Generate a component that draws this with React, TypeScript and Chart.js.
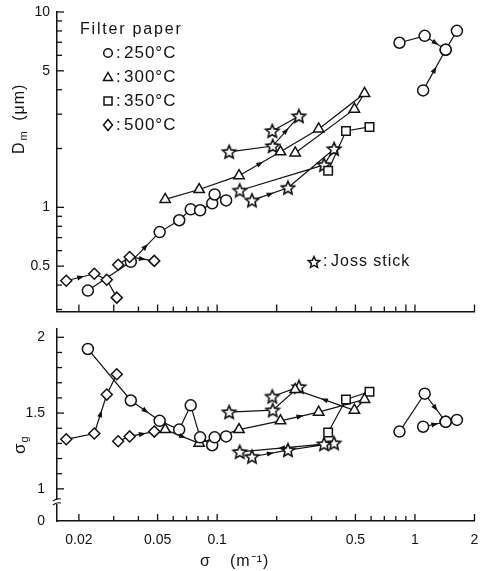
import React, { useEffect, useRef } from "react";
import { Chart, registerables } from "chart.js";
Chart.register(...registerables);

// ---------------- data ----------------
const xTickValues = [0.02, 0.03, 0.04, 0.05, 0.06, 0.07, 0.08, 0.09, 0.1, 0.2, 0.3, 0.4, 0.5, 0.6, 0.7, 0.8, 0.9, 1, 2];
const xTickLabels = ["0.02", "0.05", "0.1", "0.5", "1", "2"];
const dmTickValues = [0.3, 0.4, 0.5, 0.6, 0.7, 0.8, 0.9, 1, 2, 3, 4, 5, 6, 7, 8, 9, 10];
const dmTickLabels = ["0.5", "1", "5", "10"];
const sgTickValues = [1, 1.1, 1.2, 1.3, 1.4, 1.5, 1.6, 1.7, 1.8, 1.9, 2];
const sgTickLabels = ["1", "1.5", "2"];
const sgBreakLabel = "0";

// Filter paper 250°C (low sigma run)
const c250aSigma = [0.0222, 0.0366, 0.0512, 0.0643, 0.0735, 0.082, 0.0944, 0.0971, 0.111];
const c250aDm = [0.375, 0.526, 0.747, 0.859, 0.977, 0.966, 1.048, 1.164, 1.085];
const c250aSg = [1.923, 1.583, 1.449, 1.391, 1.551, 1.34, 1.288, 1.34, 1.346];
// Filter paper 250°C (high sigma runs)
const c250bSigma = [0.835, 1.12, 1.43, 1.63];
const c250bDm = [6.96, 7.55, 6.41, 8.01];
const c250bSg = [1.378, 1.628, 1.442, 1.455];
const c250cSigma = [1.1, 1.43];
const c250cDm = [3.97, 6.41];
const c250cSg = [1.41, 1.442];
// Filter paper 300°C
const t300Sigma = [0.0546, 0.0811, 0.129, 0.209, 0.326, 0.556, 0.494, 0.248];
const t300Dm = [1.098, 1.234, 1.453, 1.924, 2.52, 3.83, 3.18, 1.9];
const t300Sg = [1.391, 1.301, 1.391, 1.449, 1.506, 1.59, 1.519, 1.655];
// Filter paper 350°C
const s350Sigma = [0.364, 0.448, 0.589];
const s350Dm = [1.54, 2.46, 2.58];
const s350Sg = [1.372, 1.59, 1.641];
// Filter paper 500°C
const d500aSigma = [0.01726, 0.02393, 0.02767, 0.03108];
const d500aDm = [0.421, 0.457, 0.426, 0.345];
const d500aSg = [1.327, 1.365, 1.622, 1.756];
const d500bSigma = [0.0316, 0.0361, 0.0481];
const d500bDm = [0.508, 0.557, 0.532];
const d500bSg = [1.314, 1.346, 1.378];
// Joss stick
const jsASigma = [0.115, 0.191, 0.259, 0.19];
const jsADm = [1.924, 2.06, 2.93, 2.46];
const jsASg = [1.506, 1.519, 1.673, 1.609];
const jsBSigma = [0.15, 0.228, 0.39, 0.347, 0.13];
const jsBDm = [1.085, 1.26, 1.99, 1.65, 1.22];
const jsBSg = [1.212, 1.256, 1.301, 1.295, 1.244];

const legendTitle = "Filter paper";
const legendLabels = ["250°C", "300°C", "350°C", "500°C"];
const jossLabel = "Joss stick";

// ---------------- styling ----------------
const FONT = "'Liberation Sans', Arial, sans-serif";
const INK = "#111";

type Run = { key: string; marker: string; sigma: number[]; dm: number[]; sg: number[] };
const runs: Run[] = [
  { key: "d500a", marker: "diamond", sigma: d500aSigma, dm: d500aDm, sg: d500aSg },
  { key: "d500b", marker: "diamond", sigma: d500bSigma, dm: d500bDm, sg: d500bSg },
  { key: "c250a", marker: "circle", sigma: c250aSigma, dm: c250aDm, sg: c250aSg },
  { key: "t300", marker: "triangle", sigma: t300Sigma, dm: t300Dm, sg: t300Sg },
  { key: "s350", marker: "square", sigma: s350Sigma, dm: s350Dm, sg: s350Sg },
  { key: "jsA", marker: "star", sigma: jsASigma, dm: jsADm, sg: jsASg },
  { key: "jsB", marker: "star", sigma: jsBSigma, dm: jsBDm, sg: jsBSg },
  { key: "c250b", marker: "circle", sigma: c250bSigma, dm: c250bDm, sg: c250bSg },
  { key: "c250c", marker: "circle", sigma: c250cSigma, dm: c250cDm, sg: c250cSg },
];

const topArrows: [string, number][] = [
  ["d500a", 0], ["c250a", 1], ["d500b", 1], ["t300", 2], ["jsA", 1], ["jsB", 0], ["c250b", 1], ["c250c", 0],
];
const bottomArrows: [string, number][] = [
  ["d500a", 1], ["c250a", 1], ["d500b", 1], ["t300", 0], ["t300", 3], ["t300", 6], ["jsB", 0], ["jsB", 3], ["c250b", 1], ["c250c", 0],
];

function starPath(ctx: CanvasRenderingContext2D, cx: number, cy: number, ro: number, ri: number) {
  ctx.beginPath();
  for (let i = 0; i < 10; i++) {
    const r = i % 2 === 0 ? ro : ri;
    const a = -Math.PI / 2 + (i * Math.PI) / 5;
    const px = cx + r * Math.cos(a);
    const py = cy + r * Math.sin(a);
    if (i === 0) ctx.moveTo(px, py);
    else ctx.lineTo(px, py);
  }
  ctx.closePath();
}

function makeStar(): HTMLCanvasElement {
  const c = document.createElement("canvas");
  c.width = 18;
  c.height = 18;
  const ctx = c.getContext("2d")!;
  starPath(ctx, 9, 9.5, 7, 3.2);
  ctx.fillStyle = "#fff";
  ctx.fill();
  ctx.lineWidth = 1.6;
  ctx.strokeStyle = INK;
  ctx.lineJoin = "miter";
  ctx.stroke();
  return c;
}

function drawMarker(ctx: CanvasRenderingContext2D, marker: string, x: number, y: number) {
  ctx.save();
  ctx.lineWidth = 1.5;
  ctx.strokeStyle = INK;
  ctx.fillStyle = "#fff";
  ctx.beginPath();
  if (marker === "circle") ctx.arc(x, y, 4.3, 0, Math.PI * 2);
  else if (marker === "triangle") {
    ctx.moveTo(x, y - 4.5);
    ctx.lineTo(x + 4.5, y + 3.5);
    ctx.lineTo(x - 4.5, y + 3.5);
    ctx.closePath();
  } else if (marker === "square") ctx.rect(x - 4, y - 4, 8, 8);
  else if (marker === "diamond") {
    ctx.moveTo(x, y - 5.5);
    ctx.lineTo(x + 4.5, y);
    ctx.lineTo(x, y + 5.5);
    ctx.lineTo(x - 4.5, y);
    ctx.closePath();
  } else if (marker === "star") starPath(ctx, x, y + 0.5, 6, 2.8);
  ctx.fill();
  ctx.stroke();
  ctx.restore();
}

function labelFor(value: number, labels: string[]): string {
  const hit = labels.find((l) => Math.abs(Number(l) - value) < 1e-6);
  return hit === undefined ? "" : hit;
}

const tickPlugin = {
  id: "inwardTicks",
  afterDraw(chart: any) {
    const ctx = chart.ctx as CanvasRenderingContext2D;
    const area = chart.chartArea;
    ctx.save();
    ctx.strokeStyle = INK;
    ctx.lineWidth = 1.3;
    Object.values(chart.scales).forEach((s: any) => {
      s.ticks.forEach((t: any) => {
        const p = s.getPixelForValue(t.value);
        const len = t.label ? 7 : 5;
        ctx.beginPath();
        if (s.axis === "x") {
          if (p < area.left + 2) return;
          ctx.moveTo(p, area.bottom);
          ctx.lineTo(p, area.bottom - len);
        } else {
          if (p > area.bottom - 2) return;
          ctx.moveTo(area.left, p);
          ctx.lineTo(area.left + len, p);
        }
        ctx.stroke();
      });
    });
    ctx.restore();
  },
};

function arrowPlugin(list: [string, number][]) {
  return {
    id: "arrows",
    afterDatasetsDraw(chart: any) {
      const ctx = chart.ctx as CanvasRenderingContext2D;
      ctx.save();
      ctx.fillStyle = INK;
      list.forEach(([key, seg]) => {
        const di = runs.findIndex((r) => r.key === key);
        const pts = chart.getDatasetMeta(di).data;
        const a = pts[seg];
        const b = pts[seg + 1];
        if (!a || !b) return;
        const mx = (a.x + b.x) / 2;
        const my = (a.y + b.y) / 2;
        const ang = Math.atan2(b.y - a.y, b.x - a.x);
        ctx.save();
        ctx.translate(mx, my);
        ctx.rotate(ang);
        ctx.beginPath();
        ctx.moveTo(4, 0);
        ctx.lineTo(-3, -2.6);
        ctx.lineTo(-3, 2.6);
        ctx.closePath();
        ctx.fill();
        ctx.restore();
      });
      ctx.restore();
    },
  };
}

const TOP_H = 320;
const BOT_TOP = 320;
const BOT_H = 571 - BOT_TOP;

const topTextPlugin = {
  id: "topText",
  afterDraw(chart: any) {
    const ctx = chart.ctx as CanvasRenderingContext2D;
    ctx.save();
    ctx.fillStyle = INK;
    ctx.textBaseline = "middle";
    ctx.textAlign = "left";
    ctx.font = `16px ${FONT}`;
    (ctx as any).letterSpacing = "1.8px";
    ctx.fillText(legendTitle, 80, 30);
    const markers = ["circle", "triangle", "square", "diamond"];
    const rowY = [53, 77, 101, 125];
    (ctx as any).letterSpacing = "1px";
    ctx.font = `17px ${FONT}`;
    legendLabels.forEach((lab, i) => {
      drawMarker(ctx, markers[i], 108, rowY[i]);
      ctx.fillText(":", 116, rowY[i]);
      ctx.fillText(lab, 124, rowY[i]);
    });
    drawMarker(ctx, "star", 314, 262);
    ctx.font = `16px ${FONT}`;
    ctx.fillText(":", 323, 262);
    ctx.fillText(jossLabel, 331, 262);
    // y title
    ctx.save();
    ctx.translate(20, 154);
    ctx.rotate(-Math.PI / 2);
    (ctx as any).letterSpacing = "1px";
    ctx.font = `16px ${FONT}`;
    ctx.fillText("D", 0, 0);
    let w = ctx.measureText("D").width;
    ctx.font = `11px ${FONT}`;
    ctx.fillText("m", w + 1, 4);
    w += ctx.measureText("m").width + 1;
    ctx.font = `16px ${FONT}`;
    ctx.fillText(" (μm)", w + 4, 0);
    ctx.restore();
    ctx.restore();
  },
};

const botTextPlugin = {
  id: "botText",
  afterDraw(chart: any) {
    const ctx = chart.ctx as CanvasRenderingContext2D;
    const area = chart.chartArea;
    const oy = -BOT_TOP;
    ctx.save();
    ctx.fillStyle = INK;
    ctx.textBaseline = "middle";
    ctx.textAlign = "left";
    ctx.font = `16px ${FONT}`;
    (ctx as any).letterSpacing = "1px";
    ctx.fillText("σ", 200, 562 + oy);
    ctx.fillText("(m⁻¹)", 230, 562 + oy);
    // y title
    ctx.save();
    ctx.translate(20, 454 + oy);
    ctx.rotate(-Math.PI / 2);
    ctx.font = `17px ${FONT}`;
    ctx.fillText("σ", 0, 0);
    const w = ctx.measureText("σ").width;
    ctx.font = `11px ${FONT}`;
    ctx.fillText("g", w, 5);
    ctx.restore();
    // axis break
    const yb = 502 + oy;
    const x0 = area.left;
    ctx.fillStyle = "#fff";
    ctx.fillRect(x0 - 2, yb - 2, 4, 4);
    ctx.strokeStyle = INK;
    ctx.lineWidth = 1.2;
    ctx.beginPath();
    ctx.moveTo(x0 - 4, yb - 1);
    ctx.quadraticCurveTo(x0, yb - 4, x0 + 4, yb - 3);
    ctx.moveTo(x0 - 4, yb + 3);
    ctx.quadraticCurveTo(x0, yb, x0 + 4, yb + 1);
    ctx.stroke();
    ctx.restore();
  },
};

function buildDatasets(which: "dm" | "sg", star: HTMLCanvasElement) {
  return runs.map((r) => {
    const ys = which === "dm" ? r.dm : r.sg;
    let pointStyle: any = "circle";
    let radius = 5.5;
    if (r.marker === "triangle") { pointStyle = "triangle"; radius = 6; }
    if (r.marker === "square") { pointStyle = "rect"; radius = 6; }
    if (r.marker === "diamond") { pointStyle = "rectRot"; radius = 5.5; }
    if (r.marker === "star") { pointStyle = star; radius = 7; }
    return {
      label: r.key,
      data: r.sigma.map((s, i) => ({ x: s, y: ys[i] })),
      showLine: true,
      borderColor: INK,
      borderWidth: 1.2,
      pointStyle,
      pointRadius: radius,
      pointBorderWidth: 1.5,
      pointBorderColor: INK,
      pointBackgroundColor: "#fff",
      tension: 0,
    };
  });
}

const tickFont = { family: FONT, size: 14 };
const border = { display: true, color: INK, width: 1.5 };
const noGrid = { display: false, drawTicks: false };

function zeroPad(s: any) {
  s.paddingTop = 0;
  s.paddingBottom = 0;
  s.paddingLeft = 0;
  s.paddingRight = 0;
}

export default function App() {
  const topRef = useRef<HTMLCanvasElement>(null);
  const botRef = useRef<HTMLCanvasElement>(null);

  useEffect(() => {
    document.body.style.margin = "0";
    const star = makeStar();
    const xCommon = {
      type: "logarithmic" as const,
      min: 0.0155,
      max: 2,
      afterBuildTicks: (s: any) => {
        s.ticks = xTickValues.map((v) => ({ value: v }));
      },
      grid: noGrid,
      border,
    };
    const top = new Chart(topRef.current!, {
      type: "scatter",
      data: { datasets: buildDatasets("dm", star) as any },
      plugins: [tickPlugin, arrowPlugin(topArrows), topTextPlugin],
      options: {
        animation: false,
        responsive: false,
        events: [],
        layout: { padding: { left: 0, right: 8, top: 12, bottom: 0 } },
        plugins: { legend: { display: false }, tooltip: { enabled: false } },
        scales: {
          x: {
            ...xCommon,
            ticks: { display: false, autoSkip: false },
            afterFit: (s: any) => { s.height = 6; zeroPad(s); },
          },
          y: {
            type: "logarithmic",
            min: 0.293,
            max: 10,
            afterBuildTicks: (s: any) => {
              s.ticks = dmTickValues.map((v) => ({ value: v }));
            },
            ticks: {
              autoSkip: false,
              padding: 7,
              font: tickFont,
              color: INK,
              callback: (v: any) => labelFor(Number(v), dmTickLabels),
            },
            grid: noGrid,
            border,
            afterFit: (s: any) => { s.width = 57; zeroPad(s); },
          },
        },
      } as any,
    });
    const sgMin = 0.788;
    const bot = new Chart(botRef.current!, {
      type: "scatter",
      data: { datasets: buildDatasets("sg", star) as any },
      plugins: [tickPlugin, arrowPlugin(bottomArrows), botTextPlugin],
      options: {
        animation: false,
        responsive: false,
        events: [],
        layout: { padding: { left: 0, right: 8, top: 3, bottom: 0 } },
        plugins: { legend: { display: false }, tooltip: { enabled: false } },
        scales: {
          x: {
            ...xCommon,
            ticks: {
              autoSkip: false,
              maxRotation: 0,
              padding: 11,
              font: tickFont,
              color: INK,
              callback: (v: any) => labelFor(Number(v), xTickLabels),
            },
            afterFit: (s: any) => { s.height = 50; zeroPad(s); },
          },
          y: {
            type: "linear",
            min: sgMin,
            max: 2.058,
            afterBuildTicks: (s: any) => {
              s.ticks = [{ value: sgMin }, ...sgTickValues.map((v) => ({ value: v }))];
            },
            ticks: {
              autoSkip: false,
              padding: 12,
              font: tickFont,
              color: INK,
              callback: (v: any) => (Math.abs(Number(v) - sgMin) < 1e-6 ? sgBreakLabel : labelFor(Number(v), sgTickLabels)),
            },
            grid: noGrid,
            border,
            afterFit: (s: any) => { s.width = 57; zeroPad(s); },
          },
        },
      } as any,
    });
    return () => {
      top.destroy();
      bot.destroy();
    };
  }, []);

  return (
    <div style={{ position: "relative", width: 483, height: 571, background: "#fff" }}>
      <canvas ref={topRef} width={483} height={TOP_H} style={{ position: "absolute", left: 0, top: 0, display: "block" }} />
      <canvas ref={botRef} width={483} height={BOT_H} style={{ position: "absolute", left: 0, top: BOT_TOP, display: "block" }} />
    </div>
  );
}
